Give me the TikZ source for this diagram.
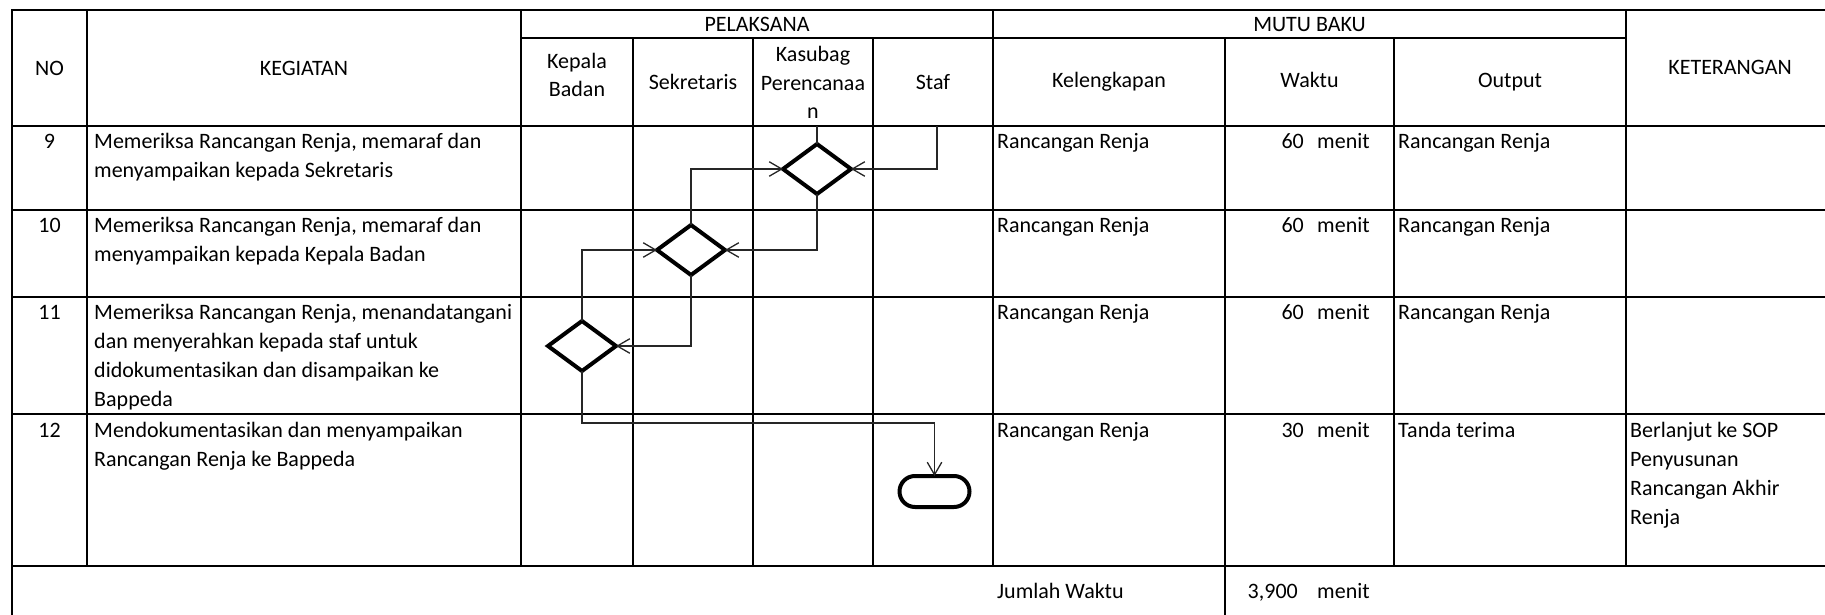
\documentclass[tikz,border=0pt]{standalone}
\usepackage{fontspec}
\setmainfont{Carlito}
\usetikzlibrary{shapes.geometric,arrows.meta}
\begin{document}
\begin{tikzpicture}[x=1pt,y=-1pt,
 grid/.style={line width=2.2pt, line cap=rect},
 txt/.style={inner sep=0pt, font=\fontsize{22}{29}\selectfont},
 lft/.style={txt, anchor=base west},
 ctr/.style={txt, anchor=base},
 rgt/.style={txt, anchor=base east},
 dec/.style={diamond, draw, line width=4pt, minimum width=68pt, minimum height=50pt, inner sep=0pt, outer sep=0pt},
 term/.style={rectangle, rounded corners=15.5pt, draw, line width=4pt, minimum width=70pt, minimum height=31pt, inner sep=0pt, outer sep=0pt},
 flow/.style={line width=1.3pt, draw=black!85, -{Straight Barb[length=12.5pt,width=14.5pt]}},
 plain/.style={line width=1.3pt, draw=black!85}
]
\useasboundingbox (0,0) rectangle (1825,615);
% grid
\draw[grid] (12,10) -- (1825,10);
\draw[grid] (521,38) -- (1626,38);
\foreach \y in {126,210,297,414,566} \draw[grid] (12,\y) -- (1825,\y);
\draw[grid] (12,10) -- (12,615);
\draw[grid] (87,10) -- (87,566);
\draw[grid] (521,10) -- (521,566);
\foreach \x in {633,753,873,1394} \draw[grid] (\x,38) -- (\x,566);
\draw[grid] (1225,38) -- (1225,615);
\draw[grid] (993,10) -- (993,566);
\draw[grid] (1626,10) -- (1626,566);
% header
\node[ctr] (hno) at (49.5,76) {NO};
\node[ctr] (hkeg) at (304,76) {KEGIATAN};
\node[ctr] (hpel) at (757,32) {PELAKSANA};
\node[ctr] (hkb1) at (577,69) {Kepala};
\node[ctr] (hkb2) at (577,97) {Badan};
\node[ctr] (hsek) at (693,90) {Sekretaris};
\node[ctr] (hkas1) at (813,62) {Kasubag};
\node[ctr] (hkas2) at (813,91) {Perencanaa};
\node[ctr] (hkas3) at (813,119) {n};
\node[ctr] (hstaf) at (933,90) {Staf};
\node[ctr] (hmutu) at (1309.5,32) {MUTU BAKU};
\node[ctr] (hkel) at (1109,88) {Kelengkapan};
\node[ctr] (hwak) at (1309.5,88) {Waktu};
\node[ctr] (hout) at (1510,88) {Output};
\node[ctr] (hket) at (1730,75) {KETERANGAN};
% row 9
\node[ctr] (n9) at (49.5,148) {9};
\node[lft] (k9a) at (94,148) {Memeriksa Rancangan Renja, memaraf dan};
\node[lft] (k9b) at (94,177) {menyampaikan kepada Sekretaris};
\node[lft] (kl9) at (997,148) {Rancangan Renja};
\node[rgt] (w9) at (1304,148) {60};
\node[lft] (m9) at (1317,148) {menit};
\node[lft] (o9) at (1398,148) {Rancangan Renja};
% row 10
\node[ctr] (n10) at (49.5,232) {10};
\node[lft] (k10a) at (94,232) {Memeriksa Rancangan Renja, memaraf dan};
\node[lft] (k10b) at (94,261) {menyampaikan kepada Kepala Badan};
\node[lft] (kl10) at (997,232) {Rancangan Renja};
\node[rgt] (w10) at (1304,232) {60};
\node[lft] (m10) at (1317,232) {menit};
\node[lft] (o10) at (1398,232) {Rancangan Renja};
% row 11
\node[ctr] (n11) at (49.5,319) {11};
\node[lft] (k11a) at (94,319) {Memeriksa Rancangan Renja, menandatangani};
\node[lft] (k11b) at (94,348) {dan menyerahkan kepada staf untuk};
\node[lft] (k11c) at (94,377) {didokumentasikan dan disampaikan ke};
\node[lft] (k11d) at (94,406) {Bappeda};
\node[lft] (kl11) at (997,319) {Rancangan Renja};
\node[rgt] (w11) at (1304,319) {60};
\node[lft] (m11) at (1317,319) {menit};
\node[lft] (o11) at (1398,319) {Rancangan Renja};
% row 12
\node[ctr] (n12) at (49.5,437) {12};
\node[lft] (k12a) at (94,437) {Mendokumentasikan dan menyampaikan};
\node[lft] (k12b) at (94,466) {Rancangan Renja ke Bappeda};
\node[lft] (kl12) at (997,437) {Rancangan Renja};
\node[rgt] (w12) at (1304,437) {30};
\node[lft] (m12) at (1317,437) {menit};
\node[lft] (o12) at (1398,437) {Tanda terima};
\node[lft] (ke12a) at (1630,437) {Berlanjut ke SOP};
\node[lft] (ke12b) at (1630,466) {Penyusunan};
\node[lft] (ke12c) at (1630,495) {Rancangan Akhir};
\node[lft] (ke12d) at (1630,524) {Renja};
% total
\node[lft] (jw) at (997,598) {Jumlah Waktu};
\node[rgt] (jt) at (1298,598) {3,900};
\node[lft] (jm) at (1317,598) {menit};
% flow
\node[dec] (d1) at (817,169) {};
\node[dec] (d2) at (691,250) {};
\node[dec] (d3) at (582,346) {};
\node[term] (t) at (934.5,491.5) {};
\coordinate (p0) at (817,126);
\coordinate (s0) at (937,126);
\coordinate (b0) at (582,423);
\draw[plain] (p0) -- (d1.north);
\draw[flow] (s0) |- (d1.east);
\draw[flow] (d2.north) |- (d1.west);
\draw[flow] (d1.south) |- (d2.east);
\draw[flow] (d3.north) |- (d2.west);
\draw[flow] (d2.south) |- (d3.east);
\draw[flow] (d3.south) -- (b0) -| (t.north);
\end{tikzpicture}
\end{document}
